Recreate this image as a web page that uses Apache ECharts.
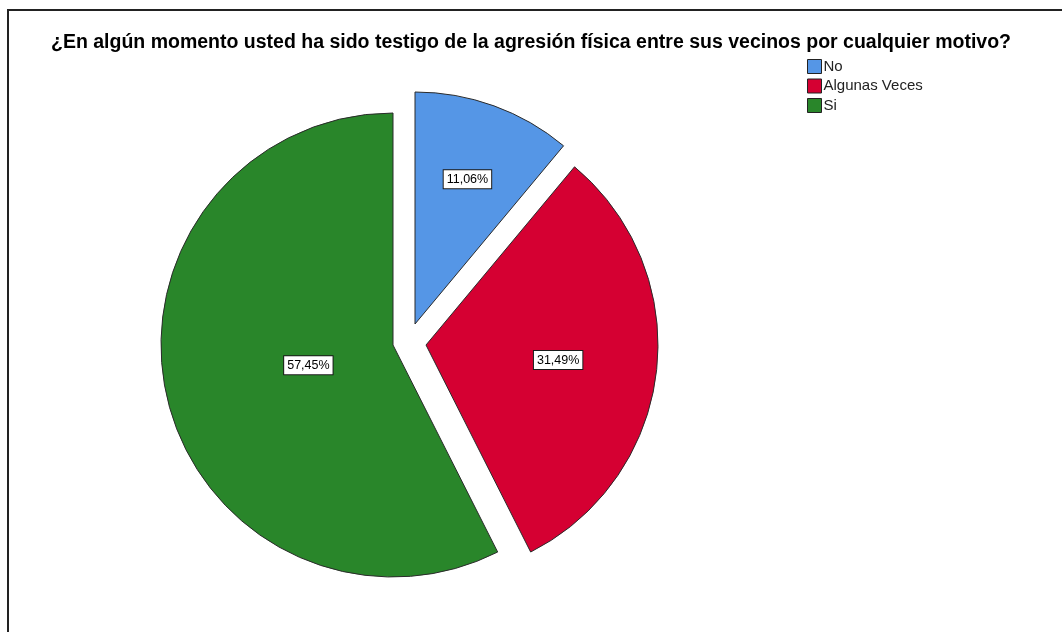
<!DOCTYPE html>
<html>
<head>
<meta charset="utf-8">
<script src="https://cdn.jsdelivr.net/npm/echarts@6/dist/echarts.min.js"></script>
<style>
html,body{margin:0;padding:0;background:#fff;}
#main{width:1062px;height:632px;}
</style>
</head>
<body>
<div id="main"></div>
<script>
const titleText = '¿En algún momento usted ha sido testigo de la agresión física entre sus vecinos por cualquier motivo?';
const categories = ['No', 'Algunas Veces', 'Si'];
const percents = [11.06, 31.49, 57.45];

const sliceColors = ['#5596E6', '#D50032', '#29862A'];
const FONT = '"Liberation Sans", Arial, sans-serif';
const R = 232;
// per-slice layout: pie center (exploded offsets) and label radius
const layout = [
  { center: [415, 324], labelRadius: 302 },
  { center: [426, 345], labelRadius: 260 },
  { center: [393, 345], labelRadius: 168 }
];

function fmt(v) { return v.toFixed(2).replace('.', ',') + '%'; }

function sliceSeries(k) {
  return {
    type: 'pie',
    name: categories[k],
    center: layout[k].center,
    radius: R,
    startAngle: 90,
    clockwise: true,
    silent: true,
    avoidLabelOverlap: false,
    label: { show: false },
    labelLine: { show: false },
    emphasis: { disabled: true },
    data: categories.map((c, i) => ({
      name: c,
      value: percents[i],
      itemStyle: i === k
        ? { color: sliceColors[i], borderColor: '#2b2b2b', borderWidth: 1 }
        : { color: 'rgba(0,0,0,0)', borderWidth: 0 }
    }))
  };
}

function labelSeries(k) {
  return {
    type: 'pie',
    center: layout[k].center,
    radius: layout[k].labelRadius,
    startAngle: 90,
    clockwise: true,
    silent: true,
    avoidLabelOverlap: false,
    labelLine: { show: false },
    emphasis: { disabled: true },
    z: 5,
    data: categories.map((c, i) => ({
      name: c,
      value: percents[i],
      itemStyle: { color: 'rgba(0,0,0,0)', borderWidth: 0 },
      label: {
        show: i === k,
        position: 'inside',
        formatter: (p) => fmt(p.value),
        color: '#000',
        fontSize: 12.5,
        fontFamily: FONT,
        lineHeight: 14,
        backgroundColor: '#fff',
        borderColor: '#1a1a1a',
        borderWidth: 1,
        padding: [2, 3]
      }
    }))
  };
}

const chart = echarts.init(document.getElementById('main'), null, { renderer: 'canvas' });
chart.setOption({
  animation: false,
  backgroundColor: '#fff',
  title: {
    text: titleText,
    left: 'center',
    top: 28,
    textStyle: { fontFamily: FONT, fontSize: 19.5, fontWeight: 'bold', color: '#000' }
  },
  legend: {
    orient: 'vertical',
    left: 802,
    top: 54,
    itemWidth: 14,
    itemHeight: 14,
    itemGap: 4.5,
    selectedMode: false,
    icon: 'rect',
    textStyle: { fontFamily: FONT, fontSize: 15, color: '#222', lineHeight: 15, padding: [0, 0, 0, -3] },
    data: categories.map((c, i) => ({
      name: c,
      itemStyle: { color: sliceColors[i], borderColor: '#222', borderWidth: 1 }
    }))
  },
  graphic: [{
    type: 'rect',
    silent: true,
    shape: { x: 8, y: 10, width: 1200, height: 800 },
    style: { fill: 'none', stroke: '#222', lineWidth: 2 }
  }],
  series: [sliceSeries(2), sliceSeries(0), sliceSeries(1), labelSeries(0), labelSeries(1), labelSeries(2)]
});
</script>
</body>
</html>
